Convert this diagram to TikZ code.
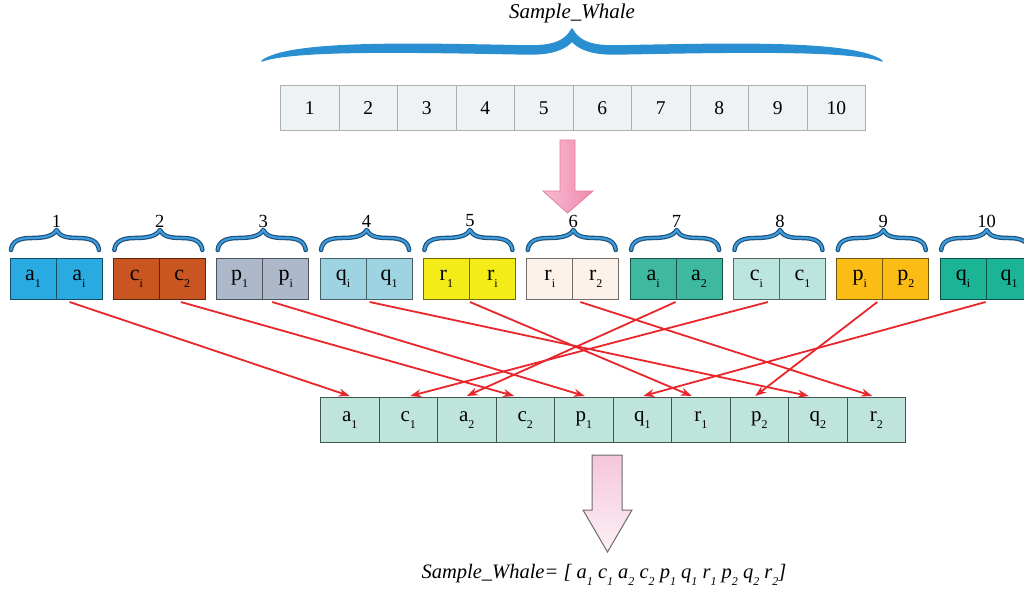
\documentclass[tikz,border=0pt]{standalone}
\usepackage{fontspec}
\setmainfont{Liberation Serif}
\usetikzlibrary{arrows.meta,calc}
\definecolor{topgray}{HTML}{EEF2F4}
\definecolor{topborder}{HTML}{A9AEB0}
\definecolor{botfill}{HTML}{BFE4DC}
\definecolor{botborder}{HTML}{3F5652}
\definecolor{linkred}{HTML}{E8262B}
\definecolor{braceblue}{HTML}{2A8FD1}
\definecolor{bracedark}{HTML}{1E4E78}
\definecolor{bracelight}{HTML}{3C9CDC}
\definecolor{pinkA}{HTML}{F9BCD1}
\definecolor{pinkB}{HTML}{EE8AAE}
\definecolor{pinkedge}{HTML}{E47CA0}
\definecolor{pinkC}{HTML}{F5C6DB}
\definecolor{pinkD}{HTML}{FDF0F6}
\definecolor{cA}{HTML}{29ABE2}
\definecolor{cB}{HTML}{C95521}
\definecolor{cC}{HTML}{AEB8CB}
\definecolor{cD}{HTML}{9ED4E2}
\definecolor{cE}{HTML}{F3EC19}
\definecolor{cF}{HTML}{FDF2EA}
\definecolor{cG}{HTML}{3FB8A0}
\definecolor{cH}{HTML}{BDE5E0}
\definecolor{cI}{HTML}{FCBC16}
\definecolor{cJ}{HTML}{1BB497}
\newcommand{\lb}[2]{#1\raisebox{-0.3em}{\fontsize{12}{12}\selectfont #2}}
\newcommand{\ls}[2]{#1\raisebox{-0.35em}{\fontsize{12}{12}\selectfont #2}}
\begin{document}
\begin{tikzpicture}[x=1pt,y=-1pt,
  topcell/.style={draw=topborder, fill=topgray, line width=1pt, minimum width=58.5pt, minimum height=45pt, inner sep=0pt, anchor=north west, font=\fontsize{19.5}{19.5}\selectfont},
  paircell/.style={draw=#1!45!black, fill=#1, line width=1pt, minimum width=46pt, minimum height=41pt, inner sep=0pt, anchor=north west, font=\fontsize{22}{22}\selectfont},
  botcell/.style={draw=botborder, fill=botfill, line width=1pt, minimum width=58.5pt, minimum height=45pt, inner sep=0pt, anchor=north west, font=\fontsize{21}{21}\selectfont},
  numlabel/.style={font=\fontsize{18.5}{18.5}\selectfont, inner sep=0pt},
  smallbraceout/.style={draw=bracedark, line width=4.5pt, line cap=round, line join=round},
  smallbracein/.style={draw=bracelight, line width=2.2pt, line cap=round, line join=round},
  link/.style={draw=linkred, line width=1.8pt, -{Stealth[length=11pt,width=8pt]}}
]
\clip (0,0) rectangle (1024,591);
\fill[white] (0,0) rectangle (1024,591);

% title and big brace
\node[font=\itshape\fontsize{21}{21}\selectfont, inner sep=0pt] (title) at (572,13) {Sample\_Whale};
\filldraw[braceblue, line width=1.5pt, line join=round]
  (262,61) .. controls (290,40) and (420,44) .. (530,46)
  .. controls (556,46) and (566,40) .. (572,29)
  .. controls (578,40) and (588,46) .. (614,46)
  .. controls (724,44) and (854,40) .. (882,61)
  .. controls (850,49) and (724,52) .. (614,54)
  .. controls (590,54) and (578,48) .. (572,41)
  .. controls (566,48) and (554,54) .. (530,54)
  .. controls (420,52) and (294,49) .. (262,61) -- cycle;

% top row
\foreach \i in {1,...,10} {
  \node[topcell] (t\i) at ({280+(\i-1)*58.5},85) {\i};
}

% pink arrow
\draw[pinkedge, line width=0.8pt, left color=pinkA, right color=pinkB]
  (560,140) -- (575,140) -- (575,191) -- (593,191) -- (567.5,213) -- (543,191) -- (560,191) -- cycle;

% pairs
\foreach \i/\l/\r/\c in {
  1/{\lb{a}{1}}/{\lb{a}{i}}/cA,
  2/{\lb{c}{i}}/{\lb{c}{2}}/cB,
  3/{\lb{p}{1}}/{\lb{p}{i}}/cC,
  4/{\lb{q}{i}}/{\lb{q}{1}}/cD,
  5/{\lb{r}{1}}/{\lb{r}{i}}/cE,
  6/{\lb{r}{i}}/{\lb{r}{2}}/cF,
  7/{\lb{a}{i}}/{\lb{a}{2}}/cG,
  8/{\lb{c}{i}}/{\lb{c}{1}}/cH,
  9/{\lb{p}{i}}/{\lb{p}{2}}/cI,
  10/{\lb{q}{i}}/{\lb{q}{1}}/cJ} {
  \node[paircell=\c] (L\i) at ({9.5+(\i-1)*103.35},258) {\l};
  \node[paircell=\c] (R\i) at ({55.5+(\i-1)*103.35},258) {\r};
  \foreach \st in {smallbraceout,smallbracein} {
    \draw[\st] ($(L\i.north west)+(1.5,-8)$)
      .. controls +(1,-9) and +(-12,0) .. ($(L\i.north west)+(22,-20)$)
      .. controls +(13,0) and +(-3,6) .. ($(L\i.north east)+(0,-28)$)
      .. controls +(3,6) and +(-13,0) .. ($(R\i.north east)+(-24,-20)$)
      .. controls +(12,0) and +(-1,-9) .. ($(R\i.north east)+(-3.5,-8)$);
  }
  \node[numlabel] (n\i) at ($(L\i.north east)+(0,-37)$) {\i};
}

% bottom row
\foreach \i/\t in {1/{\lb{a}{1}},2/{\lb{c}{1}},3/{\lb{a}{2}},4/{\lb{c}{2}},5/{\lb{p}{1}},6/{\lb{q}{1}},7/{\lb{r}{1}},8/{\lb{p}{2}},9/{\lb{q}{2}},10/{\lb{r}{2}}} {
  \node[botcell] (b\i) at ({320+(\i-1)*58.5},397) {\t};
}

% links
\draw[link] ([xshift=14pt,yshift=-2pt]R1.south west) -- ([xshift=0pt,yshift=1pt]b1.north);
\draw[link] ([xshift=-11pt,yshift=-2pt]R8.south west) -- ([xshift=2pt,yshift=1pt]b2.north);
\draw[link] ([xshift=0pt,yshift=-2pt]R7.south west) -- ([xshift=0pt,yshift=1pt]b3.north);
\draw[link] ([xshift=22pt,yshift=-2pt]R2.south west) -- ([xshift=-11pt,yshift=1pt]b4.north);
\draw[link] ([xshift=10pt,yshift=-2pt]R3.south west) -- ([xshift=1pt,yshift=1pt]b5.north);
\draw[link] ([xshift=0pt,yshift=-2pt]R10.south west) -- ([xshift=1pt,yshift=1pt]b6.north);
\draw[link] ([xshift=1pt,yshift=-2pt]R5.south west) -- ([xshift=-9pt,yshift=1pt]b7.north);
\draw[link] ([xshift=-5pt,yshift=-2pt]R9.south west) -- ([xshift=-4pt,yshift=1pt]b8.north);
\draw[link] ([xshift=4pt,yshift=-2pt]R4.south west) -- ([xshift=-9pt,yshift=1pt]b9.north);
\draw[link] ([xshift=8pt,yshift=-2pt]R6.south west) -- ([xshift=-4pt,yshift=1pt]b10.north);

% bottom arrow
\draw[black!58, line width=1pt, top color=pinkC, bottom color=pinkD]
  (592,455) -- (622,455) -- (622,510) -- (632,510) -- (607.5,552) -- (583,510) -- (592,510) -- cycle;

% result text
\node[font=\itshape\fontsize{20.5}{20.5}\selectfont, inner sep=0pt] (res) at (604,575)
  {Sample\_Whale= [ \ls{a}{1} \ls{c}{1} \ls{a}{2} \ls{c}{2} \ls{p}{1} \ls{q}{1} \ls{r}{1} \ls{p}{2} \ls{q}{2} \ls{r}{2}]};
\end{tikzpicture}
\end{document}
